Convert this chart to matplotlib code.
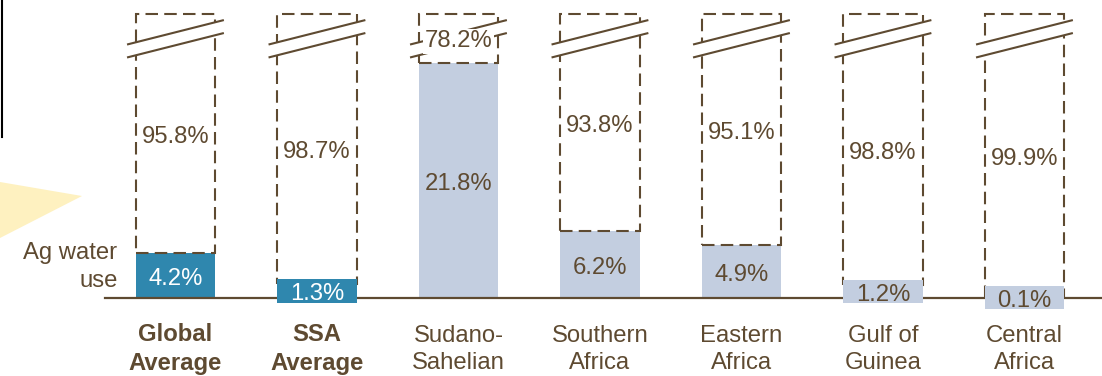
import matplotlib
matplotlib.use('Agg')

import matplotlib.pyplot as plt
from matplotlib.patches import Polygon
from matplotlib.lines import Line2D
import numpy as np

# data
categories = ['Global\nAverage', 'SSA\nAverage', 'Sudano-\nSahelian', 'Southern\nAfrica',
              'Eastern\nAfrica', 'Gulf of\nGuinea', 'Central\nAfrica']
ag_use = [4.2, 1.3, 21.8, 6.2, 4.9, 1.2, 0.1]
other_use = [95.8, 98.7, 78.2, 93.8, 95.1, 98.8, 99.9]
highlight = [True, True, False, False, False, False, False]

brown = '#5e4a31'
dark_blue = '#2f87ae'
light_blue = '#c3cee0'
plt.rcParams['font.family'] = ['Liberation Sans', 'DejaVu Sans']

fig = plt.figure(figsize=(11.02, 3.76), dpi=100)
ax = fig.add_axes([0, 0, 1, 1])
ax.set_xlim(-1.240, 6.548)
ax.set_ylim(-7.22, 27.59)
ax.axis('off')

cap = 26.3          # broken axis: dashed boxes stop here
width = 0.56
dy = -0.3           # small nudge so digits sit visually centred
fs = 17.2

for i, (a, o) in enumerate(zip(ag_use, other_use)):
    fc = dark_blue if highlight[i] else light_blue
    ax.bar(i, a, width=width, color=fc, zorder=2)
    ax.bar(i, cap - a, bottom=a, width=width, fill=False, edgecolor=brown,
           linewidth=1.5, linestyle=(0, (6, 3)), zorder=3)

    # break marks
    half = 0.335
    slope = 3.31
    yu, yl = 24.6, 23.4
    xs = np.array([i - half, i + half])
    up = yu + slope * (xs - i)
    lo = yl + slope * (xs - i)
    ax.add_patch(Polygon([[xs[0], up[0]], [xs[1], up[1]], [xs[1], lo[1]], [xs[0], lo[0]]],
                         closed=True, facecolor='white', edgecolor='none', zorder=4))
    ax.plot(xs, up, color=brown, lw=1.5, zorder=5)
    ax.plot(xs, lo, color=brown, lw=1.5, zorder=5)

    # top label (remaining share)
    ax.text(i, (a + cap) / 2 + dy, f'{o}%', ha='center', va='center', fontsize=fs,
            color=brown, zorder=6,
            bbox=dict(facecolor='white', edgecolor='none', boxstyle='square,pad=0.08'))

    # ag water label
    tc = 'white' if highlight[i] else brown
    if a < 2:
        ax.bar(i, 2.2, bottom=a / 2 - 1.1, width=width, color=fc, zorder=6)
    ax.text(i, a / 2 + dy, f'{a}%', ha='center', va='center', fontsize=fs, color=tc, zorder=7)

    ax.text(i, -4.75, categories[i], ha='center', va='center', fontsize=fs, color=brown,
            fontweight='bold' if highlight[i] else 'normal', linespacing=1.33)

# baseline
ax.plot([-0.5, 6.6], [0, 0], color=brown, lw=1.6, zorder=5)

ax.text(-0.41, 2.85, 'Ag water\nuse', ha='right', va='center', fontsize=fs, color=brown,
        linespacing=1.33)

# left decorations
fig.add_artist(Polygon([[0, 1 - 182 / 376], [82 / 1102, 1 - 196 / 376], [0, 1 - 238 / 376]],
                       closed=True, transform=fig.transFigure, facecolor='#fef1c0',
                       edgecolor='none'))
fig.add_artist(Line2D([1.5 / 1102, 1.5 / 1102], [1, 1 - 137 / 376], transform=fig.transFigure,
                      color='black', lw=1.5))

plt.savefig('out.png', dpi=100)
plt.close(fig)
